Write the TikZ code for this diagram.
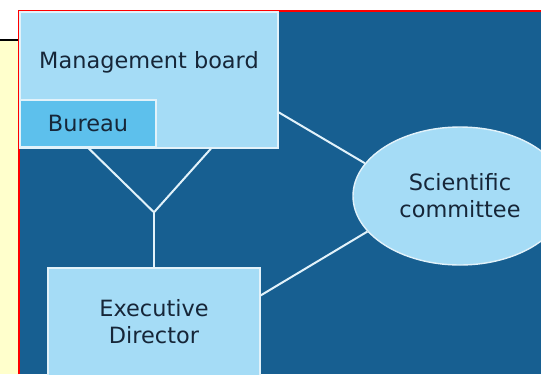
\documentclass[tikz,border=0pt]{standalone}
\usepackage{fontspec}
\setmainfont{DejaVu Sans}
\usetikzlibrary{shapes.geometric}
\definecolor{navy}{RGB}{23,95,145}
\definecolor{pale}{RGB}{165,220,246}
\definecolor{sky}{RGB}{93,192,236}
\definecolor{rim}{RGB}{226,242,250}
\definecolor{ink}{RGB}{22,38,56}
\definecolor{cream}{RGB}{255,255,204}
\begin{document}
\begin{tikzpicture}[x=1bp,y=-1bp,
  box/.style={draw=rim, line width=1.4bp, fill=pale, inner sep=0pt, text=ink,
    font=\fontsize{22.5}{27}\selectfont, align=center},
  link/.style={draw=rim, line width=2bp}]
\useasboundingbox (0,0) rectangle (541,374);
% page around the slide
\fill[white] (0,0) rectangle (541,374);
\fill[cream] (0,41) rectangle (19,374);
\draw[line width=2bp] (0,40)--(19,40);
\fill[navy] (19,11) rectangle (541,374);
\draw[red, line width=2.2bp] (19,374)--(19,11)--(541,11);
% bodies
\node[box, minimum width=258bp, minimum height=136bp,
  label={[text=ink, font=\fontsize{22.5}{27}\selectfont, yshift=18bp]center:Management board}]
  (board) at (149,80) {};
\node[box, fill=sky, minimum width=136bp, minimum height=47bp] (bureau) at (88,123.5) {Bureau};
\node[box, minimum width=212bp, minimum height=108bp] (exec) at (154,322) {Executive\\Director};
\node[box, ellipse, minimum width=214bp, minimum height=138bp] (sci) at (460,196) {Scientific\\committee};
\coordinate (fork) at ([yshift=55bp]exec.north);
% links
\draw[link] (bureau.south) -- (fork) -- (board.-48);
\draw[link] (fork) -- (exec.north);
\draw[link] (board.-14) -- (sci.161);
\draw[link] (exec.14) -- (sci.201);
\end{tikzpicture}
\end{document}
